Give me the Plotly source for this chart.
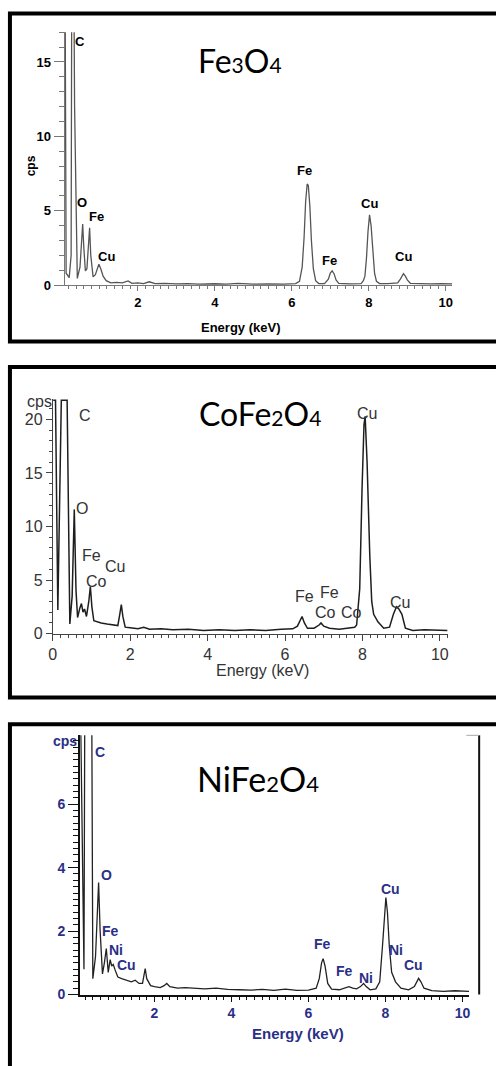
import plotly.graph_objects as go

W, H = 496, 1066

# ---------------- data ----------------
# Panel 1 : Fe3O4
E1 = [0.10, 0.14, 0.22, 0.27, 0.29, 0.33, 0.36, 0.43, 0.50, 0.54, 0.57, 0.60, 0.64, 0.68,
      0.72, 0.75, 0.78, 0.84, 0.90, 0.95, 0.99, 1.04, 1.10, 1.18, 1.30, 1.45, 1.60, 1.75,
      1.85, 2.00, 2.15, 2.30, 2.45, 2.70, 3.00, 3.30, 3.60, 4.00, 4.30, 4.60, 5.00, 5.40,
      5.80, 6.10, 6.20, 6.27, 6.32, 6.36, 6.40, 6.43, 6.47, 6.51, 6.56, 6.62, 6.70, 6.85,
      6.95, 7.00, 7.05, 7.10, 7.15, 7.22, 7.50, 7.80, 7.86, 7.90, 7.94, 7.98, 8.02, 8.06,
      8.10, 8.15, 8.20, 8.28, 8.50, 8.75, 8.82, 8.86, 8.90, 8.95, 9.00, 9.08, 9.30, 9.60,
      9.90, 10.17]
C1 = [30.0, 0.8, 0.5, 2.0, 25.0, 25.0, 12.0, 0.45, 1.2, 3.0, 4.1, 2.5, 0.95, 1.1,
      2.6, 3.85, 2.0, 0.55, 0.7, 1.2, 1.4, 1.1, 0.6, 0.3, 0.15, 0.18, 0.15, 0.28,
      0.12, 0.15, 0.10, 0.22, 0.10, 0.12, 0.08, 0.10, 0.06, 0.09, 0.06, 0.12, 0.07, 0.08,
      0.06, 0.10, 0.25, 1.2, 3.2, 5.6, 6.8, 6.7, 5.3, 3.0, 1.1, 0.3, 0.10, 0.10,
      0.4, 0.8, 0.95, 0.75, 0.35, 0.12, 0.08, 0.10, 0.3, 0.6, 1.8, 3.6, 4.72, 4.0,
      2.2, 0.8, 0.25, 0.10, 0.10, 0.15, 0.4, 0.65, 0.77, 0.6, 0.35, 0.12, 0.10, 0.08,
      0.10, 0.08]

# Panel 2 : CoFe2O4
E2 = [0.01, 0.07, 0.13, 0.22, 0.37, 0.44, 0.50, 0.555, 0.60, 0.64, 0.70, 0.74, 0.78, 0.82,
      0.87, 0.93, 0.97, 1.01, 1.06, 1.15, 1.25, 1.40, 1.55, 1.68, 1.73, 1.77, 1.81, 1.87,
      2.00, 2.20, 2.35, 2.50, 2.80, 3.10, 3.50, 3.90, 4.30, 4.70, 5.10, 5.50, 5.90, 6.20,
      6.32, 6.40, 6.44, 6.50, 6.58, 6.75, 6.88, 6.93, 7.00, 7.15, 7.40, 7.60, 7.80, 7.85,
      7.93, 7.99, 8.04, 8.07, 8.12, 8.19, 8.24, 8.29, 8.40, 8.55, 8.70, 8.80, 8.88, 8.94,
      9.02, 9.11, 9.30, 9.60, 9.90, 10.20]
C2 = [21.8, 21.8, 2.2, 21.8, 21.8, 0.9, 3.5, 11.6, 4.0, 1.5, 2.4, 2.8, 2.0, 2.3,
      1.6, 3.0, 4.4, 2.5, 1.2, 1.1, 1.0, 0.9, 0.8, 0.75, 1.8, 2.7, 1.6, 0.6,
      0.55, 0.45, 0.6, 0.4, 0.45, 0.35, 0.4, 0.3, 0.35, 0.3, 0.35, 0.3, 0.4, 0.45,
      0.7, 1.4, 1.6, 1.0, 0.5, 0.5, 0.8, 1.0, 0.7, 0.5, 0.4, 0.5, 0.6, 0.8,
      4.2, 13.5, 19.5, 20.3, 16.0, 7.3, 3.0, 1.8, 1.1, 0.5, 0.6, 1.8, 2.5, 2.3,
      1.8, 0.5, 0.3, 0.35, 0.3, 0.3]

# Panel 3 : NiFe2O4
E3 = [0.08, 0.17, 0.27, 0.40, 0.47, 0.52, 0.55, 0.59, 0.65, 0.70, 0.75, 0.80, 0.85, 0.89,
      0.93, 0.97, 1.05, 1.15, 1.25, 1.40, 1.50, 1.60, 1.69, 1.73, 1.76, 1.80, 1.90, 2.00,
      2.15, 2.25, 2.32, 2.40, 2.60, 2.80, 3.00, 3.30, 3.60, 3.90, 4.20, 4.50, 4.80, 5.10,
      5.40, 5.70, 6.00, 6.20, 6.28, 6.34, 6.38, 6.43, 6.50, 6.60, 6.80, 6.95, 7.05, 7.15,
      7.25, 7.35, 7.43, 7.50, 7.60, 7.75, 7.85, 7.92, 7.97, 8.01, 8.05, 8.10, 8.16, 8.26,
      8.40, 8.60, 8.75, 8.82, 8.86, 8.92, 9.00, 9.20, 9.50, 9.80, 10.17]
C3 = [9.0, 0.8, 40.0, 0.5, 1.2, 2.8, 3.53, 2.0, 0.65, 1.0, 1.45, 0.7, 1.1, 0.9,
      0.95, 0.8, 0.55, 0.5, 0.45, 0.4, 0.45, 0.35, 0.35, 0.6, 0.82, 0.5, 0.28, 0.25,
      0.22, 0.28, 0.35, 0.25, 0.2, 0.22, 0.2, 0.18, 0.2, 0.16, 0.15, 0.14, 0.16, 0.13,
      0.17, 0.13, 0.14, 0.2, 0.5, 1.0, 1.13, 0.9, 0.35, 0.17, 0.15, 0.22, 0.25, 0.2,
      0.18, 0.25, 0.35, 0.25, 0.15, 0.18, 0.4, 1.5, 2.6, 3.06, 2.6, 1.5, 0.7, 0.4,
      0.2, 0.15, 0.25, 0.45, 0.51, 0.4, 0.2, 0.12, 0.1, 0.12, 0.1]

# peak labels: (text, energy, cps)
L1 = [("C", 0.51, 16.4), ("O", 0.56, 5.57), ("Fe", 0.94, 4.63), ("Cu", 1.20, 1.9),
      ("Fe", 6.34, 7.7), ("Fe", 6.99, 1.63), ("Cu", 8.01, 5.5), ("Cu", 8.89, 1.9)]
L2 = [("C", 0.83, 20.4), ("O", 0.76, 11.7), ("Fe", 1.00, 7.3), ("Cu", 1.61, 6.3),
      ("Co", 1.14, 4.9), ("Fe", 6.50, 3.45), ("Fe", 7.14, 3.8), ("Co", 7.05, 2.0),
      ("Co", 7.73, 2.0), ("Cu", 8.12, 20.6), ("Cu", 8.97, 2.9)]
L3 = [("C", 0.58, 7.65), ("O", 0.75, 3.76), ("Fe", 0.85, 2.0), ("Ni", 1.00, 1.4),
      ("Cu", 1.28, 0.93), ("Fe", 6.36, 1.6), ("Fe", 6.94, 0.74), ("Ni", 7.49, 0.51),
      ("Cu", 8.14, 3.32), ("Ni", 8.26, 1.4), ("Cu", 8.72, 0.93)]

TITLES = ["Fe<span style='font-size:21px'>3</span>O<span style='font-size:21px'>4</span>",
          "CoFe<span style='font-size:21px'>2</span>O<span style='font-size:21px'>4</span>",
          "NiFe<span style='font-size:22px'>2</span>O<span style='font-size:22px'>4</span>"]

X_TICKS = [0, 2, 4, 6, 8, 10]
Y1_TICKS = [0, 5, 10, 15]
Y2_TICKS = [0, 5, 10, 15, 20]
Y3_TICKS = [0, 2, 4, 6]


def fx(p):
    return p / W


def fy(p):
    return 1 - p / H


ARIAL = "Liberation Sans, Arial, sans-serif"
NAVY = "#2b2f86"

fig = go.Figure()
fig.add_trace(go.Scatter(x=E1, y=C1, mode="lines", line=dict(color="#555555", width=1.3),
                         xaxis="x", yaxis="y", showlegend=False, hoverinfo="skip"))
fig.add_trace(go.Scatter(x=E2, y=C2, mode="lines", line=dict(color="#1e1e1e", width=1.5),
                         xaxis="x2", yaxis="y2", showlegend=False, hoverinfo="skip"))
fig.add_trace(go.Scatter(x=E3, y=C3, mode="lines", line=dict(color="#222222", width=1.3),
                         xaxis="x3", yaxis="y3", showlegend=False, hoverinfo="skip"))


def axis(domain, rng, ticks, font, lcol, lw, tlen, mdt, mlen, anchor):
    return dict(domain=domain, range=rng, anchor=anchor, tickmode="array", tickvals=ticks,
                ticks="outside", ticklen=tlen, tickcolor=lcol, tickwidth=1,
                showline=True, linecolor=lcol, linewidth=lw, showgrid=False, zeroline=False,
                tickfont=font, fixedrange=True,
                minor=dict(tickmode="linear", tick0=0, dtick=mdt, ticks="outside",
                           ticklen=mlen, tickcolor=lcol, tickwidth=1, showgrid=False))


f1 = dict(family=ARIAL, size=13, color="black", weight="bold")
f2 = dict(family=ARIAL, size=16, color="#333333")
f3 = dict(family=ARIAL, size=14, color=NAVY, weight="bold")

layout = dict(
    width=W, height=H, autosize=False, margin=dict(l=0, r=0, t=0, b=0),
    paper_bgcolor="white", plot_bgcolor="white",
    xaxis=axis([fx(61.2), fx(452.9)], [0.1, 10.17], X_TICKS, f1, "#777777", 1, 5, 0.2, 3, "y"),
    yaxis=axis([fy(287.5), fy(32.5)], [0, 17], Y1_TICKS, f1, "#777777", 1, 10, 1, 5, "x"),
    xaxis2=axis([fx(49.3), fx(448.1)], [0, 10.2], X_TICKS, f2, "#444444", 1, 6, 0.2, 3, "y2"),
    yaxis2=axis([fy(639), fy(402.5)], [0, 21.9], Y2_TICKS, f2, "#444444", 1, 6, 1, 3, "x2"),
    xaxis3=axis([fx(76.9), fx(469.8)], [0.07, 10.17], X_TICKS, f3, "#111111", 2, 5, 0.2, 3, "y3"),
    yaxis3=axis([fy(1003), fy(741.6)], [0, 8.17], Y3_TICKS, f3, "#111111", 2, 10, 0.2, 5, "x3"),
)
fig.update_layout(**layout)

ann = []
for lab, ref, fnt in ((L1, ("x", "y"), f1), (L2, ("x2", "y2"), f2), (L3, ("x3", "y3"), f3)):
    for t, xv, yv in lab:
        ann.append(dict(text=t, x=xv, y=yv, xref=ref[0], yref=ref[1], showarrow=False,
                        xanchor="center", yanchor="middle", font=fnt))


def paper_text(text, x, y, font, angle=0):
    return dict(text=text, x=fx(x), y=fy(y), xref="paper", yref="paper", showarrow=False,
                xanchor="center", yanchor="middle", textangle=angle, font=font)


tfont = dict(family="Lato, Carlito, sans-serif", size=32, color="black")
ann.append(paper_text(TITLES[0], 238, 61, tfont))
ann.append(paper_text(TITLES[1], 259, 417, tfont))
ann.append(paper_text(TITLES[2], 257, 785, dict(family="Lato, Carlito, sans-serif", size=34, color="black")))

# axis titles
ann.append(paper_text("cps", 27, 167, dict(family=ARIAL, size=12, color="black", weight="bold"), -90))
ann.append(paper_text("Energy (keV)", 239, 330, dict(family=ARIAL, size=13, color="black", weight="bold")))
ann.append(paper_text("cps", 36, 405, f2))
ann.append(paper_text("Energy (keV)", 261, 676, dict(family=ARIAL, size=16, color="#333333")))
ann.append(paper_text("cps", 62, 747, f3))
ann.append(paper_text("Energy (keV)", 297, 1042, dict(family=ARIAL, size=15, color=NAVY, weight="bold")))
fig.update_layout(annotations=ann)

shapes = []
for top, bot in ((13.5, 344.5), (370, 703.5), (730.5, 1080)):
    shapes.append(dict(type="rect", xref="paper", yref="paper", x0=fx(6), x1=fx(510),
                       y0=fy(bot), y1=fy(top), line=dict(color="black", width=4)))
shapes.append(dict(type="line", xref="paper", yref="paper", x0=fx(480), x1=fx(480),
                   y0=fy(1003), y1=fy(741.6), line=dict(color="#111111", width=2)))
shapes.append(dict(type="line", xref="paper", yref="paper", x0=fx(467), x1=fx(480),
                   y0=fy(741.6), y1=fy(741.6), line=dict(color="#aaaaaa", width=1)))
fig.update_layout(shapes=shapes)

fig.write_html("out.html", config={"displayModeBar": False},
               post_script="document.body.style.margin='0';document.body.style.overflow='hidden';")
